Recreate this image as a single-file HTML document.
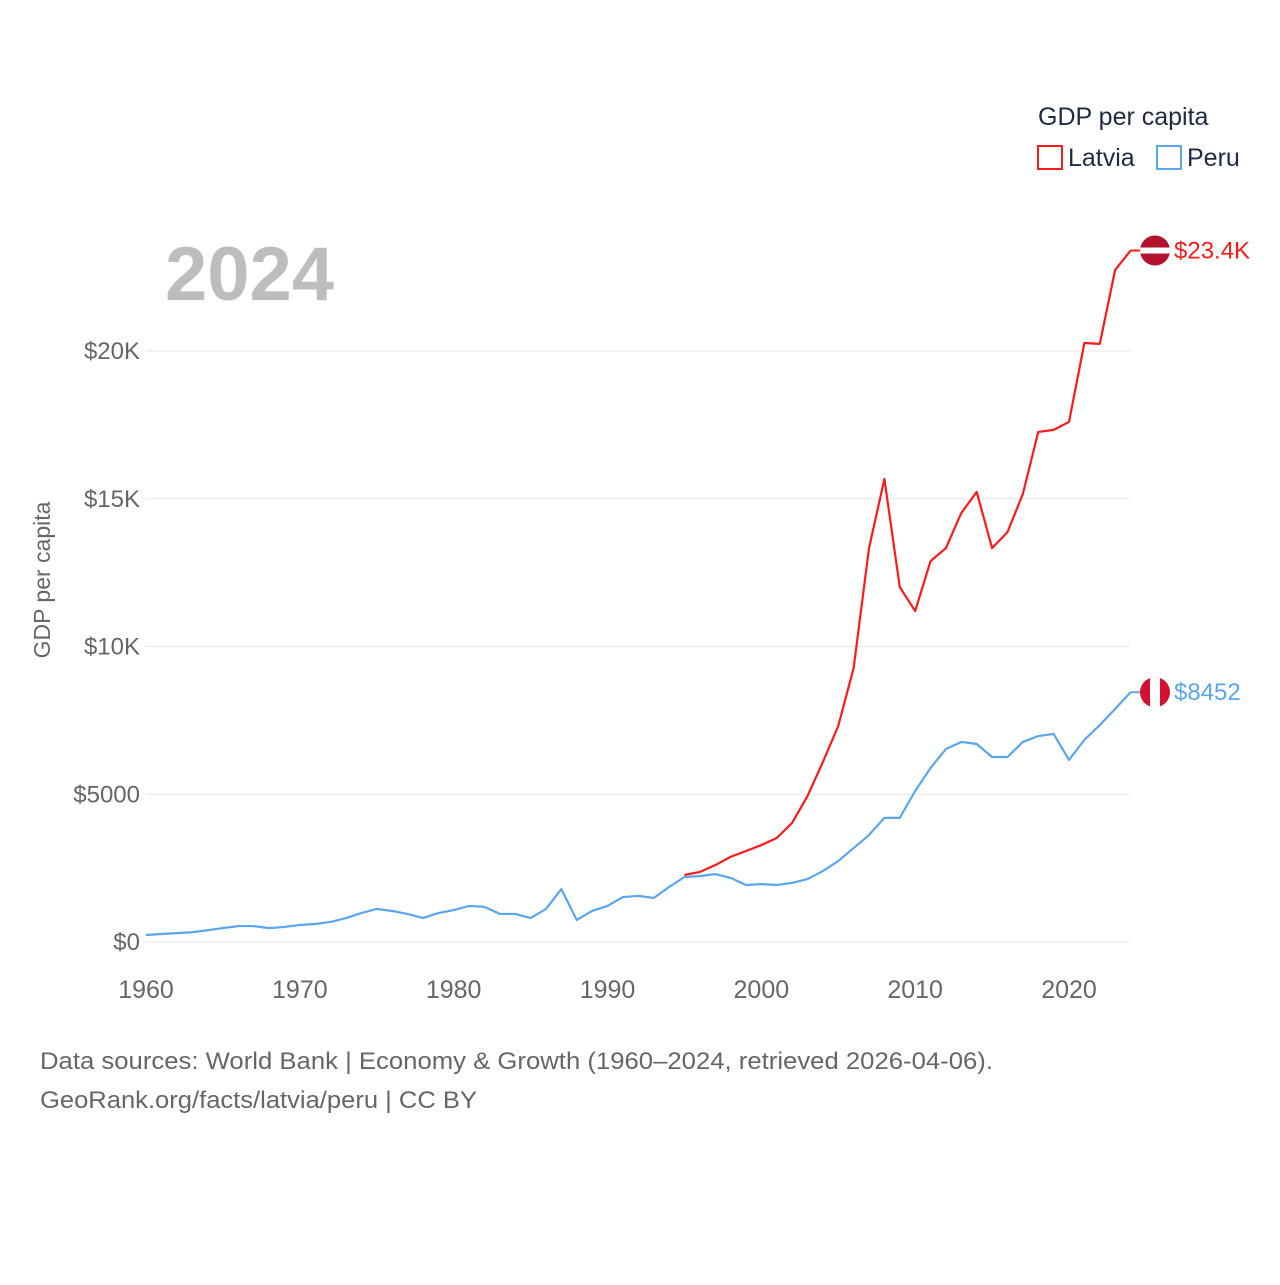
<!DOCTYPE html>
<html><head><meta charset="utf-8"><style>
body{margin:0;background:#fff;font-family:"Liberation Sans",sans-serif}
svg text{font-family:"Liberation Sans",sans-serif}
</style></head><body>
<svg width="1280" height="1280" id="chart">
<text x="1038" y="125" font-size="25" fill="#1f2a44">GDP per capita</text>
<rect x="1038" y="146" width="24" height="23" fill="none" stroke="#ff1a1a" stroke-width="2"/>
<text x="1068" y="166" font-size="25" fill="#1f2a44">Latvia</text>
<rect x="1157" y="146" width="24" height="23" fill="none" stroke="#5aa6ee" stroke-width="2"/>
<text x="1187" y="166" font-size="25" fill="#1f2a44">Peru</text>
<text x="165" y="300" font-size="76" font-weight="bold" fill="#bdbdbd">2024</text>
<text transform="translate(50,580) rotate(-90)" text-anchor="middle" font-size="23" fill="#666">GDP per capita</text>
<g id="grid"></g><g id="lines"></g><g id="ends"></g>
<text x="40" y="1069" font-size="24" fill="#666" textLength="953" lengthAdjust="spacingAndGlyphs">Data sources: World Bank | Economy &amp; Growth (1960–2024, retrieved 2026-04-06).</text>
<text x="40" y="1108" font-size="24" fill="#666" textLength="437" lengthAdjust="spacingAndGlyphs">GeoRank.org/facts/latvia/peru | CC BY</text>
</svg>
<script>
const peruYears=[];for(let y=1960;y<=2024;y++)peruYears.push(y);
const peruValues=[237,270,300,330,400,470,540,540,470,510,575,610,680,810,980,1120,1050,950,810,980,1080,1220,1190,950,950,810,1120,1790,745,1050,1220,1520,1560,1490,1860,2200,2230,2300,2170,1930,1960,1930,2000,2130,2400,2740,3180,3620,4200,4200,5110,5890,6530,6770,6700,6260,6260,6770,6970,7040,6160,6840,7340,7890,8452];
const latviaYears=[];for(let y=1995;y<=2024;y++)latviaYears.push(y);
const latviaValues=[2270,2370,2600,2880,3080,3280,3520,4030,4940,6090,7310,9270,13330,15670,12010,11200,12890,13330,14520,15230,13330,13870,15160,17260,17330,17600,20270,20240,22740,23400];
const yTicks=[0,5000,10000,15000,20000];
const yTickLabels=["$0","$5000","$10K","$15K","$20K"];
const xTicks=[1960,1970,1980,1990,2000,2010,2020];
const NS="http://www.w3.org/2000/svg";
const xs=y=>146+(y-1960)*(923/60);
const ys=v=>942-v*(147.75/5000);
function mk(t,a,p){const e=document.createElementNS(NS,t);for(const k in a)e.setAttribute(k,a[k]);p.appendChild(e);return e;}
const grid=document.getElementById('grid');
yTicks.forEach((v,i)=>{
 const l=mk('line',{x1:146,x2:1130,y1:ys(v),y2:ys(v),stroke:'#e6e6e6','stroke-width':1},grid);
 
 
 const t=mk('text',{x:140,y:ys(v)+8,'text-anchor':'end','font-size':24,fill:'#666'},grid);
 t.textContent=yTickLabels[i];
 
 
});
xTicks.forEach(y=>{
 const t=mk('text',{x:xs(y),y:998,'text-anchor':'middle','font-size':25,fill:'#666'},grid);
 t.textContent=y;
 
 
});
const lines=document.getElementById('lines');
function series(yrs,vals,col,name){
 const p=mk('polyline',{points:yrs.map((y,i)=>xs(y)+','+ys(vals[i])).join(' '),fill:'none',stroke:col,'stroke-width':2.2,'stroke-linejoin':'round'},lines);
 
 
}
series(peruYears,peruValues,'#5aa6ee','line-peru');
series(latviaYears,latviaValues,'#ff1a1a','line-latvia');
const ends=document.getElementById('ends');
function endMark(v,col,label,name,flag){
 const cy=ys(v),cx=1155;
 mk('line',{x1:xs(2024),x2:cx,y1:cy,y2:cy,stroke:col,'stroke-width':2},ends);
 const g=mk('g',{},ends);
 
 
 const cp='cp'+name;
 const c=mk('clipPath',{id:cp},g);mk('circle',{cx:cx,cy:cy,r:15},c);
 if(flag==='lv'){
  mk('rect',{x:cx-15,y:cy-15,width:30,height:30,fill:'#b3122e','clip-path':`url(#${cp})`},g);
  mk('rect',{x:cx-15,y:cy-3,width:30,height:6,fill:'#fff','clip-path':`url(#${cp})`},g);
 }else{
  mk('rect',{x:cx-15,y:cy-15,width:30,height:30,fill:'#d2122e','clip-path':`url(#${cp})`},g);
  mk('rect',{x:cx-5,y:cy-15,width:10,height:30,fill:'#fff','clip-path':`url(#${cp})`},g);
 }
 const t=mk('text',{x:1174,y:cy+8,'font-size':24,fill:col},ends);
 t.textContent=label;
 
 
}
endMark(latviaValues[latviaValues.length-1],'#ff1a1a','$23.4K','latvia','lv');
endMark(peruValues[peruValues.length-1],'#5aa6ee','$8452','peru','pe');
</script>
</body></html>
